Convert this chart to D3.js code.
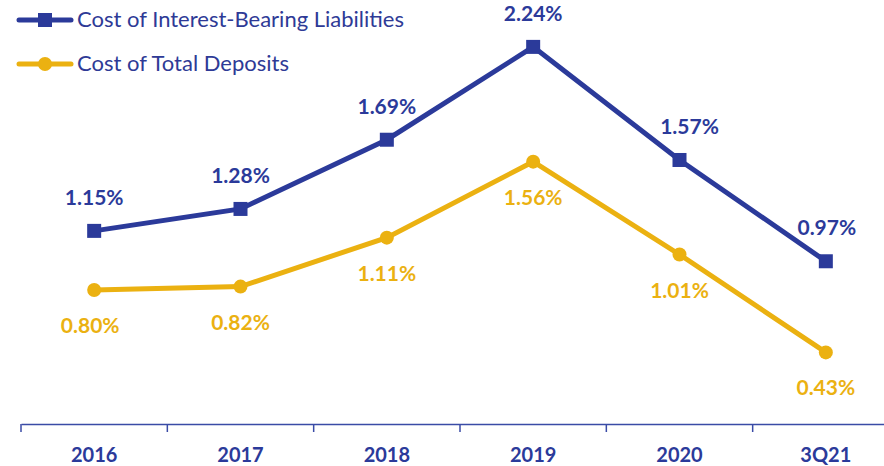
<!DOCTYPE html>
<html>
<head>
<meta charset="utf-8">
<script src="https://cdn.jsdelivr.net/npm/d3@7"></script>
<style>
  body { margin: 0; background: #fff; }
  svg { display: block; font-family: Lato, "Open Sans", sans-serif; }
</style>
</head>
<body>
<div id="chart"></div>
<script>
var categories = ["2016", "2017", "2018", "2019", "2020", "3Q21"];
var liabilities = [1.15, 1.28, 1.69, 2.24, 1.57, 0.97];
var deposits = [0.80, 0.82, 1.11, 1.56, 1.01, 0.43];
var seriesNames = ["Cost of Interest-Bearing Liabilities", "Cost of Total Deposits"];

var blue = "#2b3a9a";
var gold = "#ebb111";
var width = 884, height = 466;

var svg = d3.select("#chart").append("svg")
    .attr("width", width)
    .attr("height", height);

var x = d3.scaleBand().domain(categories).range([21, 899]);
var y = d3.scaleLinear().domain([0, 2.5]).range([425, 3]);

function cx(d, i) { return x(categories[i]) + x.bandwidth() / 2; }

// axis
var axis = svg.append("g")
    .attr("transform", "translate(0,424)")
    .call(d3.axisBottom(x).tickSize(0).tickPadding(24));
axis.select(".domain").attr("stroke", "#3a4ba6").attr("stroke-width", 1.5);
axis.selectAll("text")
    .attr("fill", blue)
    .attr("font-size", 20)
    .attr("font-weight", "bold")
    .attr("font-family", "Lato, sans-serif");
// band edge ticks
svg.append("g").selectAll("line")
    .data(categories)
    .enter().append("line")
    .attr("x1", function (d) { return x(d); })
    .attr("x2", function (d) { return x(d); })
    .attr("y1", 424)
    .attr("y2", 432)
    .attr("stroke", "#3a4ba6")
    .attr("stroke-width", 1.5);

var line = d3.line()
    .x(function (d, i) { return cx(d, i); })
    .y(function (d) { return y(d); });

// deposits
svg.append("path")
    .datum(deposits)
    .attr("fill", "none")
    .attr("stroke", gold)
    .attr("stroke-width", 5)
    .attr("d", line);
svg.selectAll(".dot")
    .data(deposits)
    .enter().append("circle")
    .attr("class", "dot")
    .attr("cx", cx)
    .attr("cy", function (d) { return y(d); })
    .attr("r", 7)
    .attr("fill", gold);

// liabilities
svg.append("path")
    .datum(liabilities)
    .attr("fill", "none")
    .attr("stroke", blue)
    .attr("stroke-width", 5)
    .attr("d", line);
svg.selectAll(".sq")
    .data(liabilities)
    .enter().append("rect")
    .attr("class", "sq")
    .attr("x", function (d, i) { return cx(d, i) - 7; })
    .attr("y", function (d) { return y(d) - 7; })
    .attr("width", 14)
    .attr("height", 14)
    .attr("fill", blue);

var labelDx = [0, 0, 0, 0, 10, 1];
svg.selectAll(".lblL")
    .data(liabilities)
    .enter().append("text")
    .attr("x", function (d, i) { return cx(d, i) + labelDx[i]; })
    .attr("y", function (d) { return y(d) - 26; })
    .attr("text-anchor", "middle")
    .attr("fill", blue)
    .attr("font-size", 21)
    .attr("font-weight", "bold")
    .text(function (d) { return d.toFixed(2) + "%"; });

svg.selectAll(".lblD")
    .data(deposits)
    .enter().append("text")
    .attr("x", function (d, i) { return cx(d, i) + (i === 0 ? -4 : 0); })
    .attr("y", function (d) { return y(d) + 43; })
    .attr("text-anchor", "middle")
    .attr("fill", gold)
    .attr("font-size", 21)
    .attr("font-weight", "bold")
    .text(function (d) { return d.toFixed(2) + "%"; });

// legend
var legend = svg.append("g");
var legendItems = [
    {name: seriesNames[0], color: blue, shape: "square", y: 20},
    {name: seriesNames[1], color: gold, shape: "circle", y: 64}
];
legendItems.forEach(function (item) {
    legend.append("line")
        .attr("x1", 19).attr("x2", 71)
        .attr("y1", item.y).attr("y2", item.y)
        .attr("stroke", item.color)
        .attr("stroke-width", 5)
        .attr("stroke-linecap", "round");
    if (item.shape === "square") {
        legend.append("rect")
            .attr("x", 38).attr("y", item.y - 7)
            .attr("width", 14).attr("height", 14)
            .attr("fill", item.color);
    } else {
        legend.append("circle")
            .attr("cx", 45).attr("cy", item.y)
            .attr("r", 7)
            .attr("fill", item.color);
    }
    legend.append("text")
        .attr("x", 77)
        .attr("y", item.y + 7)
        .attr("fill", "#2e3a96")
        .attr("font-size", 22)
        .text(item.name);
});
</script>
</body>
</html>
